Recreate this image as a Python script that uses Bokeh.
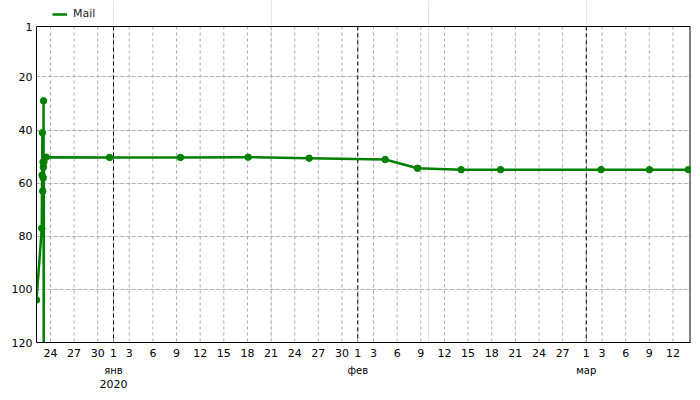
import pandas as pd
from bokeh.plotting import figure
from bokeh.models import (Range1d, FixedTicker, LinearAxis, Span, Legend,
                          LegendItem, ColumnDataSource, Grid)
from bokeh.embed import file_html
from bokeh.resources import INLINE

# ---- data ----
dates = [
    "2019-12-22 05:30", "2019-12-22 21:30", "2019-12-22 22:30", "2019-12-22 23:30",
    "2019-12-23 00:30", "2019-12-23 01:30", "2019-12-23 02:00", "2019-12-23 02:30",
    "2019-12-23 03:00", "2019-12-23 03:30", "2019-12-23 04:00", "2019-12-23 11:00",
    "2019-12-31 12:00", "2020-01-09 12:00", "2020-01-18 02:00", "2020-01-25 20:00",
    "2020-02-04 11:30", "2020-02-08 14:00", "2020-02-14 03:00", "2020-02-19 03:00",
    "2020-03-02 21:00", "2020-03-09 00:30", "2020-03-13 23:00",
]
values = [
    104, 77, 57, 41,
    63, 52, 58, 54,
    29, 140, 52, 50.2,
    50.3, 50.3, 50.2, 50.6,
    51.1, 54.4, 54.9, 54.9,
    54.9, 54.9, 54.9,
]
series_name = "Mail"

tick_dates = [
    "2019-12-24", "2019-12-27", "2019-12-30",
    "2020-01-01", "2020-01-03", "2020-01-06", "2020-01-09", "2020-01-12",
    "2020-01-15", "2020-01-18", "2020-01-21", "2020-01-24", "2020-01-27",
    "2020-01-30",
    "2020-02-01", "2020-02-03", "2020-02-06", "2020-02-09", "2020-02-12",
    "2020-02-15", "2020-02-18", "2020-02-21", "2020-02-24", "2020-02-27",
    "2020-03-01", "2020-03-03", "2020-03-06", "2020-03-09", "2020-03-12",
]
month_dates = ["2020-01-01", "2020-02-01", "2020-03-01"]
month_labels = ["янв", "фев", "мар"]
year_dates = ["2020-01-01"]
year_labels = ["2020"]
y_ticks = [1, 20, 40, 60, 80, 100, 120]

origin = pd.Timestamp("2020-01-01")


def to_days(s):
    return (pd.Timestamp(s) - origin) / pd.Timedelta(days=1)


xs = [to_days(d) for d in dates]
tick_pos = [int(round(to_days(d))) for d in tick_dates]
tick_lbl = {t: str(pd.Timestamp(d).day) for t, d in zip(tick_pos, tick_dates)}
month_pos = [int(round(to_days(d))) for d in month_dates]
year_pos = [int(round(to_days(d))) for d in year_dates]

src = ColumnDataSource(dict(x=xs, y=values))

GREEN = "#008000"
FONT = "DejaVu Sans"
FS = "11px"

# layout (pixels)
W, H = 692, 392
LEFT, RIGHT, BOTTOM = 36, 2, 50
PLOT_TOP = 26                 # where the value 1 sits (frame extends to the top edge)
plot_h = H - BOTTOM - PLOT_TOP
y_lo, y_hi = y_ticks[0], y_ticks[-1]
y_top_ext = y_lo - PLOT_TOP / plot_h * (y_hi - y_lo)
x_lo, x_hi = xs[0], xs[-1] + 0.27

p = figure(width=W, height=H, output_backend="svg", toolbar_location=None,
           x_range=Range1d(x_lo, x_hi), y_range=Range1d(y_hi, y_top_ext),
           min_border_left=LEFT, min_border_right=RIGHT, min_border_top=0,
           min_border_bottom=BOTTOM, x_axis_location=None, y_axis_location=None)
p.outline_line_color = None
p.background_fill_color = "white"
p.border_fill_color = "white"

# y axis
yax = LinearAxis(ticker=FixedTicker(ticks=y_ticks), bounds=(y_lo, y_hi))
yax.major_tick_out = 0
yax.major_tick_in = 0
yax.minor_tick_out = 0
yax.minor_tick_in = 0
yax.axis_line_color = "black"
yax.major_label_standoff = 4
yax.major_label_text_font = FONT
yax.major_label_text_font_size = FS
yax.major_label_text_color = "black"
p.add_layout(yax, "left")

# x axes (days / months / year)
xax = LinearAxis(ticker=FixedTicker(ticks=tick_pos), major_label_overrides=tick_lbl)
xax.major_tick_out = 0
xax.major_tick_in = 0
xax.minor_tick_out = 0
xax.minor_tick_in = 0
xax.axis_line_color = "black"
xax.major_label_standoff = 6
xax.major_label_text_font = FONT
xax.major_label_text_font_size = FS
xax.major_label_text_color = "black"
p.add_layout(xax, "below")

for pos, lbls, standoff, fs in ((month_pos, month_labels, 5, "10px"),
                                (year_pos, year_labels, 1, "11px")):
    ax = LinearAxis(ticker=FixedTicker(ticks=pos),
                    major_label_overrides={t: l for t, l in zip(pos, lbls)})
    ax.major_tick_out = 0
    ax.major_tick_in = 0
    ax.minor_tick_out = 0
    ax.minor_tick_in = 0
    ax.axis_line_color = None
    ax.major_label_standoff = standoff
    ax.major_label_text_font = FONT
    ax.major_label_text_font_size = fs
    ax.major_label_text_color = "black"
    p.add_layout(ax, "below")

# horizontal grid
p.add_layout(Grid(dimension=1, ticker=FixedTicker(ticks=y_ticks),
                  grid_line_color="#a8a8a8", grid_line_dash="3 3"))
# vertical grid (only between value 1 and 120)
p.segment(x0=tick_pos, y0=y_lo, x1=tick_pos, y1=y_hi,
          line_color="#a8a8a8", line_dash="3 3", line_width=1)
p.segment(x0=month_pos, y0=y_lo, x1=month_pos, y1=y_hi,
          line_color="black", line_dash="4 3", line_width=1)
# plot box: top and right edges
p.add_layout(Span(location=y_lo, dimension="width", line_color="black", line_width=1))
p.segment(x0=[x_hi], y0=y_lo, x1=[x_hi], y1=y_hi, line_color="black", line_width=2)

line = p.line("x", "y", source=src, line_color=GREEN, line_width=2.5)
p.scatter("x", "y", source=src, size=6.5, fill_color=GREEN, line_color=GREEN)

legend = Legend(items=[LegendItem(label=series_name, renderers=[line])],
                location=(16, 322))
legend.border_line_color = None
legend.background_fill_alpha = 0
legend.padding = 0
legend.margin = 0
legend.glyph_width = 15
legend.glyph_height = 12
legend.label_height = 12
legend.label_standoff = 6
legend.label_text_font = FONT
legend.label_text_font_size = FS
legend.label_text_color = "#222222"
p.add_layout(legend, "center")

open("out.html", "w").write(file_html(p, INLINE))
